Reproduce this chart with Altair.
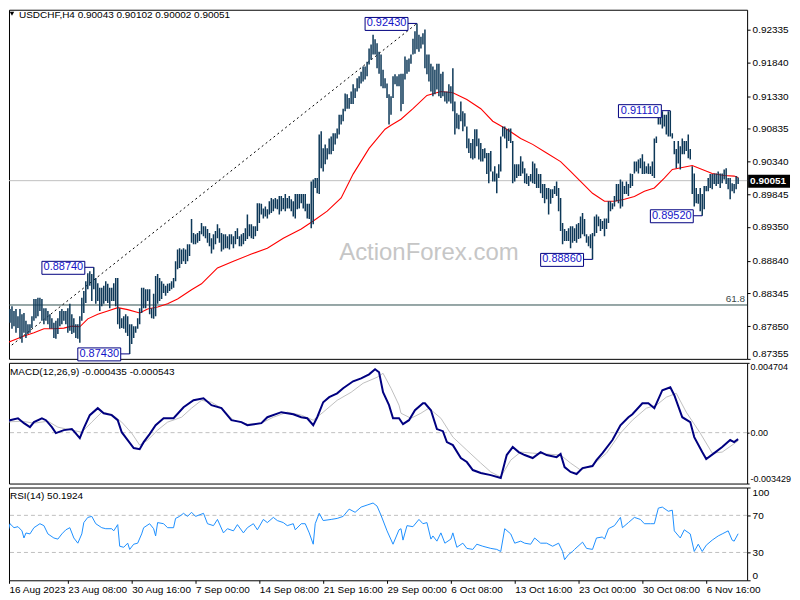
import altair as alt
import pandas as pd

FONT = "Liberation Sans"
BAR = "#0d3858"

# ---------------- price bars (price x 10000), one entry per H4 bar ----------------
bar_high = [
    8793, 8790, 8808, 8811, 8815, 8808, 8811, 8800, 8811, 8803,
    8805, 8793, 8788, 8788, 8800, 8826, 8826, 8828, 8828, 8826,
    8812, 8812, 8808, 8803, 8797, 8790, 8793, 8797, 8808, 8811,
    8808, 8808, 8812, 8819, 8803, 8797, 8788, 8788, 8800, 8828,
    8838, 8853, 8865, 8868, 8864, 8874, 8858, 8850, 8843, 8843,
    8846, 8853, 8849, 8843, 8843, 8850, 8858, 8858, 8812, 8797,
    8800, 8803, 8800, 8788, 8788, 8785, 8785, 8797, 8812, 8843,
    8843, 8841, 8841, 8841, 8812, 8834, 8861, 8864, 8858, 8853,
    8849, 8846, 8849, 8850, 8853, 8858, 8883, 8901, 8903, 8901,
    8903, 8901, 8909, 8909,
    8947, 8926, 8924, 8926, 8929, 8941, 8936, 8936, 8932, 8926,
    8918, 8924, 8929, 8939, 8933, 8926, 8924, 8924, 8921, 8924,
    8924, 8921, 8929, 8933, 8921, 8924, 8926, 8933, 8954, 8939,
    8939, 8936, 8936, 8971, 8971, 8970, 8963, 8966, 8962, 8974,
    8979, 8977, 8979, 8977, 8982, 8982, 8979, 8985, 8979, 8982,
    8977, 8974, 8985, 8985, 8985, 8985, 8985, 8985, 8970, 8970,
    9004,
    9007, 9009, 9009, 9075, 9080, 9054, 9060, 9054, 9069, 9072,
    9077, 9077, 9084, 9105, 9105, 9114, 9137, 9136, 9130, 9140,
    9151, 9145, 9160, 9163, 9170, 9178, 9178, 9185, 9205, 9211,
    9226, 9219, 9213, 9200, 9196,
    9173, 9160, 9152, 9136, 9133, 9163, 9166, 9163, 9166, 9167,
    9167, 9193, 9188, 9190, 9196, 9220, 9231, 9243, 9226, 9223,
    9228, 9234, 9196, 9196, 9182, 9178, 9173, 9182, 9182, 9167,
    9170, 9140, 9140, 9151, 9148, 9175, 9125, 9107, 9105, 9125,
    9110, 9107, 9087, 9069, 9062, 9068, 9083, 9083, 9069, 9062,
    9053, 9054, 9047, 9047, 9050, 9019, 9027, 9016, 9030, 9072,
    9087, 9087, 9083, 9084, 9084, 9065, 9030, 9030, 9030, 9042,
    9034, 9024, 9016, 9012, 9015, 9034, 9031, 9024, 9015, 9015,
    9000, 9000, 8994, 8994, 8992, 8992, 8997, 9004, 8994, 8979,
    8941, 8932, 8929, 8933,
    8936, 8936, 8933, 8939, 8941, 8951, 8956, 8947, 8924, 8921,
    8924, 8926,
    8951, 8954, 8951, 8947, 8944, 8948, 8948, 8974, 8974, 8971,
    8982, 9000, 9000, 9007, 9004, 8997, 9004, 9000, 9016, 9015,
    9034, 9034, 9037, 9039, 9045, 9034, 9027, 9031, 9027, 9034,
    9069, 9072, 9110, 9107, 9110, 9105, 9105, 9110, 9111, 9077,
    9065, 9053, 9065, 9057, 9069, 9065, 9065, 9075, 9053, 9027,
    9016, 8994, 8985, 8994, 8985, 8997, 8997, 9009, 9015, 9015,
    9016, 9016, 9019, 9016, 9016, 9022, 9024, 9009, 9009, 9001,
    9000, 9012, 9010,
]
bar_low = [
    8781, 8778, 8781, 8790, 8781, 8785, 8775, 8782, 8767, 8760,
    8775, 8767, 8773, 8775, 8782, 8793, 8797, 8800, 8808, 8793,
    8788, 8793, 8788, 8781, 8781, 8767, 8766, 8773, 8785, 8788,
    8793, 8788, 8775, 8778, 8773, 8775, 8767, 8766, 8760, 8793,
    8805, 8820, 8841, 8846, 8823, 8841, 8819, 8823, 8808, 8815,
    8819, 8823, 8820, 8812, 8823, 8823, 8815, 8788, 8781, 8782,
    8781, 8775, 8770, 8743, 8758, 8767, 8775, 8781, 8788, 8805,
    8812, 8812, 8823, 8803, 8797, 8796, 8800, 8819, 8823, 8826,
    8835, 8831, 8835, 8838, 8841, 8843, 8853, 8871, 8873, 8879,
    8883, 8879, 8883, 8891,
    8911, 8909, 8909, 8911, 8914, 8924, 8921, 8918, 8911, 8906,
    8895, 8901, 8909, 8918, 8911, 8898, 8901, 8903, 8903, 8901,
    8909, 8903, 8909, 8917, 8906, 8906, 8909, 8914, 8917, 8921,
    8918, 8917, 8921, 8929, 8941, 8954, 8948, 8951, 8948, 8954,
    8956, 8959, 8963, 8962, 8954, 8959, 8962, 8959, 8963, 8963,
    8959, 8951, 8948, 8962, 8963, 8971, 8963, 8959, 8948, 8947,
    8933,
    8939, 8994, 8986, 8985, 9024, 9019, 9030, 9037, 9045, 9045,
    9050, 9060, 9069, 9075, 9090, 9095, 9110, 9114, 9114, 9121,
    9121, 9130, 9140, 9145, 9152, 9155, 9158, 9163, 9181, 9188,
    9196, 9196, 9175, 9167, 9148,
    9145, 9145, 9130, 9090, 9105, 9130, 9151, 9148, 9148, 9110,
    9121, 9158, 9167, 9170, 9182, 9196, 9197, 9204, 9200, 9205,
    9211, 9175, 9166, 9155, 9140, 9133, 9136, 9143, 9133, 9130,
    9133, 9125, 9122, 9125, 9122, 9110, 9075, 9084, 9083, 9095,
    9080, 9087, 9054, 9047, 9039, 9037, 9039, 9057, 9037, 9034,
    9034, 9039, 9015, 9001, 9019, 9004, 9004, 8986, 9009, 9019,
    9072, 9069, 9054, 9065, 9062, 9001, 9004, 9009, 9012, 9012,
    9016, 9001, 9000, 8997, 9004, 9001, 9000, 8994, 8994, 8986,
    8979, 8971, 8977, 8954, 8970, 8979, 8985, 8982, 8959, 8929,
    8909, 8914, 8914, 8914,
    8903, 8911, 8914, 8911, 8917, 8918, 8924, 8921, 8911, 8906,
    8903, 8886,
    8921, 8926, 8936, 8929, 8932, 8921, 8932, 8941, 8959, 8962,
    8966, 8974, 8971, 8963, 8966, 8985, 8985, 8982, 8994, 8997,
    9016, 9019, 9016, 9024, 9015, 9015, 9016, 9015, 9015, 9012,
    9009, 9062, 9090, 9090, 9084, 9087, 9075, 9072, 9072, 9069,
    9045, 9024, 9031, 9022, 9045, 9045, 9050, 9039, 9037, 8985,
    8966, 8971, 8970, 8959, 8952, 8962, 8989, 8989, 8994, 8992,
    9000, 8997, 9000, 8994, 9001, 9007, 9000, 8992, 8977, 8989,
    8986, 8992, 9000,
]

# ---------------- moving average (red) ----------------
ma_idx = [0, 5, 10, 15, 20, 25, 30, 34, 38, 42, 47, 52, 57, 62, 68, 72, 77, 82, 87, 94,
          99, 107, 115, 124, 132, 140, 149, 155, 162, 169, 175, 183, 191, 194, 199, 205,
          212, 219, 225, 232, 239, 245, 252, 259, 265, 272, 279, 284, 289, 295, 301, 306,
          311, 316, 321, 326, 331, 335, 340, 345, 350, 355, 361, 366, 368]
ma_val = [0.8758, 0.8764, 0.8770, 0.8775, 0.8781, 0.8781, 0.8782, 0.8785, 0.8784, 0.8796,
          0.8803, 0.8808, 0.8813, 0.8810, 0.8805, 0.8811, 0.8814, 0.8819, 0.8826, 0.8840,
          0.8849, 0.8873, 0.8883, 0.8894, 0.8903, 0.8918, 0.8932, 0.8944, 0.8959, 0.8979,
          0.9015, 0.9054, 0.9083, 0.9089, 0.9098, 0.9114, 0.9134, 0.9140, 0.9138, 0.9128,
          0.9114, 0.9095, 0.9083, 0.9069, 0.9060, 0.9047, 0.9034, 0.9019, 0.9004, 0.8986,
          0.8974, 0.8974, 0.8977, 0.8981, 0.8989, 0.8994, 0.9009, 0.9022, 0.9025, 0.9028,
          0.9022, 0.9016, 0.9013, 0.9012, 0.9010]

# ---------------- MACD(12,26,9) ----------------
macd_idx = [0, 3, 7, 10, 13, 15, 19, 21, 24, 26, 30, 34, 35, 38, 40, 43, 47, 50, 54, 57,
            59, 62, 65, 68, 70, 73, 76, 80, 85, 90, 95, 100, 104, 109, 114, 119, 122, 129,
            132, 139, 145, 149, 152, 155, 157, 160, 163, 167, 170, 175, 179, 183, 186, 188,
            190, 193, 195, 198, 200, 203, 206, 210, 211, 214, 217, 220, 222, 225, 229, 232,
            235, 239, 244, 249, 252, 255, 258, 261, 265, 269, 272, 277, 279, 281, 284, 287,
            290, 295, 297, 300, 305, 309, 313, 315, 320, 323, 326, 330, 334, 336, 340, 344,
            346, 350, 352, 356, 360, 364, 366, 368]
macd_val = [0.00064, 0.00084, 0.00097, 0.00064, 0.00037, 0.00071, 0.00097, 0.00084, 0.00037,
            -0.00003, 0.00017, 0.00024, 0.00010, -0.00037, 0.00030, 0.00118, 0.00165, 0.00131,
            0.00118, 0.00084, 0.00003, -0.00050, -0.00104, -0.00111, -0.00064, -0.00010,
            0.00050, 0.00097, 0.00097, 0.00171, 0.00218, 0.00232, 0.00185, 0.00165, 0.00084,
            0.00071, 0.00050, 0.00064, 0.00104, 0.00138, 0.00124, 0.00104, 0.00097, 0.00050,
            0.00104, 0.00205, 0.00239, 0.00265, 0.00299, 0.00346, 0.00366, 0.00393, 0.00427,
            0.00407, 0.00272, 0.00185, 0.00097, 0.00097, 0.00057, 0.00084, 0.00151, 0.00198,
            0.00198, 0.00151, 0.00024, 0.00010, -0.00064, -0.00084, -0.00171, -0.00198,
            -0.00252, -0.00272, -0.00286, -0.00306, -0.00151, -0.00097, -0.00131, -0.00151,
            -0.00171, -0.00131, -0.00151, -0.00165, -0.00144, -0.00232, -0.00265, -0.00279,
            -0.00239, -0.00225, -0.00185, -0.00138, -0.00050, 0.00050, 0.00104, 0.00124,
            0.00198, 0.00198, 0.00165, 0.00286, 0.00306, 0.00252, 0.00104, 0.00071, -0.00030,
            -0.00131, -0.00178, -0.00138, -0.00097, -0.00050, -0.00064, -0.000435]
signal_idx = [0, 9, 15, 22, 27, 34, 39, 44, 49, 54, 59, 64, 68, 72, 77, 82, 89, 94, 99,
              104, 109, 115, 122, 129, 135, 142, 149, 155, 160, 167, 174, 180, 187, 190,
              194, 198, 199, 204, 209, 213, 219, 225, 232, 239, 244, 249, 254, 259, 265,
              272, 279, 284, 289, 295, 302, 309, 315, 322, 327, 332, 337, 342, 349, 355,
              360, 365, 368]
signal_val = [0.00071, 0.00077, 0.00064, 0.00077, 0.00037, 0.00017, 0.00003, 0.00071,
              0.00138, 0.00124, 0.00071, -0.00003, -0.00084, -0.00050, 0.00017, 0.00071,
              0.00104, 0.00165, 0.00218, 0.00205, 0.00165, 0.00084, 0.00057, 0.00064,
              0.00104, 0.00138, 0.00118, 0.00084, 0.00138, 0.00218, 0.00272, 0.00333,
              0.00373, 0.00400, 0.00299, 0.00185, 0.00131, 0.00097, 0.00131, 0.00165,
              0.00097, -0.00030, -0.00118, -0.00205, -0.00265, -0.00299, -0.00185,
              -0.00131, -0.00138, -0.00144, -0.00151, -0.00205, -0.00252, -0.00218,
              -0.00138, -0.00003, 0.00084, 0.00165, 0.00185, 0.00239, 0.00265, 0.00138,
              -0.00003, -0.00138, -0.00131, -0.00084, -0.000543]

# ---------------- RSI(14) ----------------
rsi_idx = [0, 2, 3, 5, 7, 9, 10, 11, 13, 15, 18, 20, 22, 25, 27, 29, 31, 33, 35, 37, 39,
           40, 42, 44, 46, 49, 51, 54, 55, 57, 58, 60, 62, 63, 65, 67, 69, 70, 73, 75, 76,
           77, 80, 82, 85, 86, 88, 90, 92, 94, 96, 100, 102, 105, 107, 110, 112, 115, 117,
           120, 122, 125, 127, 130, 132, 135, 137, 140, 142, 145, 146, 149, 151, 153, 155,
           156, 158, 160, 164, 167, 170, 173, 176, 179, 182, 185, 187, 189, 192, 195, 198,
           199, 200, 202, 205, 208, 210, 212, 214, 215, 217, 219, 221, 224, 225, 227, 230,
           232, 235, 237, 240, 244, 247, 249, 251, 254, 256, 259, 261, 264, 266, 269, 272,
           275, 278, 280, 281, 283, 285, 286, 290, 292, 295, 297, 300, 301, 303, 306, 309,
           310, 313, 316, 319, 321, 324, 326, 328, 330, 333, 335, 336, 339, 341, 344, 346,
           348, 350, 352, 355, 358, 360, 363, 365, 366, 368]
rsi_val = [55.6, 52, 61, 56.7, 57.8, 53.3, 45.6, 51, 50, 56.7, 61, 58.9, 50, 45.6, 44.4,
           50, 54.4, 56.7, 45.6, 40, 50, 62.2, 67.8, 68.9, 61, 56.7, 55.6, 55.6, 53.3, 60,
           36.7, 35.6, 40, 33.3, 38.9, 40, 50, 56.7, 61, 55.6, 47.8, 62.2, 61, 56.7, 56.7,
           66.7, 68.9, 72.2, 68.9, 73.3, 68.9, 72.2, 61, 58.9, 65.6, 51.1, 55.6, 53.3, 60,
           51.1, 56.7, 61, 54.4, 65.6, 62.2, 67.8, 64.4, 62.2, 58.9, 61, 54.4, 61, 61, 51.1,
           38.9, 61, 72.2, 64.4, 65.6, 66.7, 68.9, 76.7, 73.3, 78.9, 81.1, 83.3, 80, 70,
           53.3, 38.9, 54.4, 55.6, 43.3, 58.9, 57.8, 65.6, 61, 62.2, 44.4, 47.8, 42.2, 51.1,
           40, 44.4, 51.1, 35.6, 40, 34.4, 33.3, 38.9, 36.7, 34.4, 33.3, 31.1, 55.6, 50, 40,
           42.2, 40, 38.9, 45.6, 40, 40, 36.7, 40, 31.1, 22.2, 27.8, 31.1, 33.3, 41.1, 34.4,
           33.3, 45.6, 46.7, 44.4, 55.6, 58.9, 67.8, 56.7, 62.2, 67.8, 65.6, 61, 61, 61,
           77.8, 78.9, 74.4, 75.6, 53.3, 45.6, 54.4, 50, 31.1, 38.9, 31.1, 37.8, 43.3, 47.8,
           50, 53.3, 43.3, 42.2, 50.1924]

# ---------------- axis ticks / labels ----------------
tick_idx = [0, 32, 64, 96, 128, 160, 192, 224, 256, 288, 320, 352]
tick_text = ["16 Aug 2023", "23 Aug 08:00", "30 Aug 16:00", "7 Sep 00:00", "14 Sep 08:00",
             "21 Sep 16:00", "29 Sep 00:00", "6 Oct 08:00", "13 Oct 16:00", "23 Oct 00:00",
             "30 Oct 08:00", "6 Nov 16:00"]
price_ticks = [0.92335, 0.91840, 0.91330, 0.90835, 0.90340, 0.89845, 0.89350, 0.88840,
               0.88345, 0.87850, 0.87355]
macd_ticks = [0.004704, 0.0, -0.003429]
rsi_ticks = [100, 70, 30, 0]
rsi_levels = [70, 30]

# ---------------- annotations ----------------
swing_idx = [207, 45, 63, 295, 334, 350]
swing_price = [0.92430, 0.88740, 0.87430, 0.88860, 0.91110, 0.89520]
swing_text = ["0.92430", "0.88740", "0.87430", "0.88860", "0.91110", "0.89520"]
trend_idx = [0, 207]
trend_price = [0.8747, 0.9243]
fib_level = 0.8817
fib_text = "61.8"
last_price = 0.90051
title_price = "USDCHF,H4  0.90043 0.90102 0.90002 0.90051"
title_macd = "MACD(12,26,9) -0.000435 -0.000543"
title_rsi = "RSI(14) 50.1924"
watermark = "ActionForex.com"

# ---------------- layout ----------------
W = 740
H_PRICE, H_MACD, H_RSI = 350, 121, 93
X_LO = 2.5                       # bar index at the left edge of the plot (2 px per bar)
X_HI = X_LO + W / 2

xs = alt.Scale(domain=[X_LO, X_HI], nice=False, zero=False)
px = alt.X("i:Q", scale=xs, axis=None)

bars = pd.DataFrame({"i": list(range(len(bar_high))),
                     "high": [h / 10000 for h in bar_high],
                     "low": [v / 10000 for v in bar_low]})
ma_df = pd.DataFrame({"i": ma_idx, "p": ma_val})
swing_df = pd.DataFrame({"i": swing_idx, "p": swing_price, "t": swing_text})
trend_df = pd.DataFrame({"i": trend_idx, "p": trend_price})
fib_df = pd.DataFrame({"p": [fib_level], "t": [fib_text]})
last_df = pd.DataFrame({"p": [last_price], "t": [f"{last_price:.5f}"]})

ps = alt.Scale(domain=[0.87355, 0.92637], nice=False, zero=False)
p_axis = alt.Axis(orient="right", values=price_ticks, format=".5f", tickSize=3,
                  labelPadding=2, domain=False, grid=False, title=None,
                  labelFlush=True, labelOverlap=False, labelFontSize=10)


def py(field="p:Q"):
    return alt.Y(field, scale=ps, axis=p_axis)


def txt(s):
    return pd.DataFrame({"t": [s]})


wm = alt.Chart(txt(watermark)).mark_text(fontSize=24, color="#c6c6c6", font=FONT).encode(
    x=alt.value(421), y=alt.value(244), text="t:N")
cur_line = alt.Chart(last_df).mark_rule(color="#c0c0c0", strokeWidth=1).encode(y=py())
fib_line = alt.Chart(fib_df).mark_rule(color="#2f4f4f", strokeWidth=1).encode(y=py())
fib_lbl = alt.Chart(fib_df).mark_text(align="right", baseline="bottom", dy=-1, fontSize=10,
                                      color="#3c4a4a").encode(
    x=alt.value(W - 2), y=py(), text="t:N")
trend = alt.Chart(trend_df).mark_line(color="black", strokeWidth=1, strokeDash=[2, 3],
                                      clip=True).encode(x=px, y=py())
ma_line = alt.Chart(ma_df).mark_line(color="#ff0000", strokeWidth=1.1, clip=True).encode(
    x=px, y=py())
bar_layer = alt.Chart(bars).mark_rule(color=BAR, strokeWidth=1.5, clip=True).encode(
    x=px, y=py("low:Q"), y2="high:Q")
conn = alt.Chart(swing_df).mark_rule(color="#000080", strokeWidth=1, xOffset=-9).encode(
    x=px, x2="i:Q", y=py())
box = alt.Chart(swing_df).mark_rect(fill="white", stroke="#000080", strokeWidth=1,
                                    xOffset=-52, x2Offset=-9, yOffset=-6, y2Offset=7).encode(
    x=px, x2="i:Q", y=py(), y2="p:Q")
box_txt = alt.Chart(swing_df).mark_text(dx=-30.5, fontSize=11, color="#1414c8",
                                        font=FONT).encode(x=px, y=py(), text="t:N")
tag = alt.Chart(last_df).mark_rect(fill="black", yOffset=-6, y2Offset=7).encode(
    x=alt.value(W + 1), x2=alt.value(W + 43), y=py(), y2="p:Q")
tag_txt = alt.Chart(last_df).mark_text(align="left", fontSize=10, color="white",
                                       fontWeight="bold").encode(
    x=alt.value(W + 3), y=py(), text="t:N")
tri = alt.Chart(txt("v")).mark_point(shape="triangle-down", filled=True, size=20,
                                     color="black", opacity=1).encode(
    x=alt.value(3), y=alt.value(4))
ttl = alt.Chart(txt(title_price)).mark_text(align="left", fontSize=10, color="black").encode(
    x=alt.value(10), y=alt.value(5), text="t:N")

price = alt.layer(wm, cur_line, fib_line, fib_lbl, trend, ma_line, bar_layer, conn, box,
                  box_txt, tag, tag_txt, tri, ttl).properties(width=W, height=H_PRICE)

# ---------------- MACD panel ----------------
ms = alt.Scale(domain=[-0.003429, 0.004704], nice=False, zero=False)
m_axis = alt.Axis(orient="right", values=macd_ticks, tickSize=2, labelPadding=1,
                  domain=False, grid=False, title=None, labelFlush=True,
                  labelOverlap=False, labelFontSize=9,
                  labelExpr="datum.value == 0 ? '0.00' : '' + datum.value")
macd_df = pd.DataFrame({"i": macd_idx, "v": macd_val})
sig_df = pd.DataFrame({"i": signal_idx, "v": signal_val})
zero_df = pd.DataFrame({"v": [0.0]})
m_zero = alt.Chart(zero_df).mark_rule(color="#c0c0c0", strokeDash=[4, 3]).encode(
    y=alt.Y("v:Q", scale=ms, axis=m_axis))
m_sig = alt.Chart(sig_df).mark_line(color="#c0c0c0", strokeWidth=1, clip=True).encode(
    x=px, y=alt.Y("v:Q", scale=ms, axis=m_axis))
m_main = alt.Chart(macd_df).mark_line(color="#000080", strokeWidth=2, clip=True).encode(
    x=px, y=alt.Y("v:Q", scale=ms, axis=m_axis))
m_ttl = alt.Chart(txt(title_macd)).mark_text(align="left", fontSize=10, color="black").encode(
    x=alt.value(1), y=alt.value(9), text="t:N")
macd = alt.layer(m_zero, m_sig, m_main, m_ttl).properties(width=W, height=H_MACD)

# ---------------- RSI panel ----------------
rs = alt.Scale(domain=[0, 100], nice=False, zero=False)
r_axis = alt.Axis(orient="right", values=rsi_ticks, tickSize=3, labelPadding=2, format="d",
                  domain=False, grid=False, title=None, labelFlush=True,
                  labelOverlap=False, labelFontSize=10)
axis_vals = [t if t >= X_LO else X_LO for t in tick_idx]
x_axis = alt.Axis(values=axis_vals, tickSize=3, labelPadding=1, domain=False, grid=False,
                  title=None, labelAlign="left", labelFlush=False, labelOverlap=False,
                  labelFontSize=10,
                  labelExpr="[" + ",".join("'" + t + "'" for t in tick_text) +
                            "][round(datum.value / 32)]")
rx = alt.X("i:Q", scale=xs, axis=x_axis)
rsi_df = pd.DataFrame({"i": rsi_idx, "v": rsi_val})
lev_df = pd.DataFrame({"v": rsi_levels})
r_lev = alt.Chart(lev_df).mark_rule(color="#c0c0c0", strokeDash=[4, 3]).encode(
    y=alt.Y("v:Q", scale=rs, axis=r_axis))
r_line = alt.Chart(rsi_df).mark_line(color="#1e90ff", strokeWidth=1, clip=True).encode(
    x=rx, y=alt.Y("v:Q", scale=rs, axis=r_axis))
r_ttl = alt.Chart(txt(title_rsi)).mark_text(align="left", fontSize=10, color="black").encode(
    x=alt.value(1), y=alt.value(9), text="t:N")
rsi = alt.layer(r_lev, r_line, r_ttl).properties(width=W, height=H_RSI)

chart = alt.vconcat(price, macd, rsi, spacing=4, bounds="flush").properties(
    padding={"left": 0, "top": 0, "right": 0, "bottom": 0},
    autosize=alt.AutoSizeParams(type="pad"),
    background="white",
).configure_view(
    stroke="black", strokeWidth=1
).configure_axis(
    labelFont=FONT, labelColor="black", tickColor="black"
).configure_text(font=FONT)

chart.save("out.html", embed_options={"renderer": "svg", "actions": False})
